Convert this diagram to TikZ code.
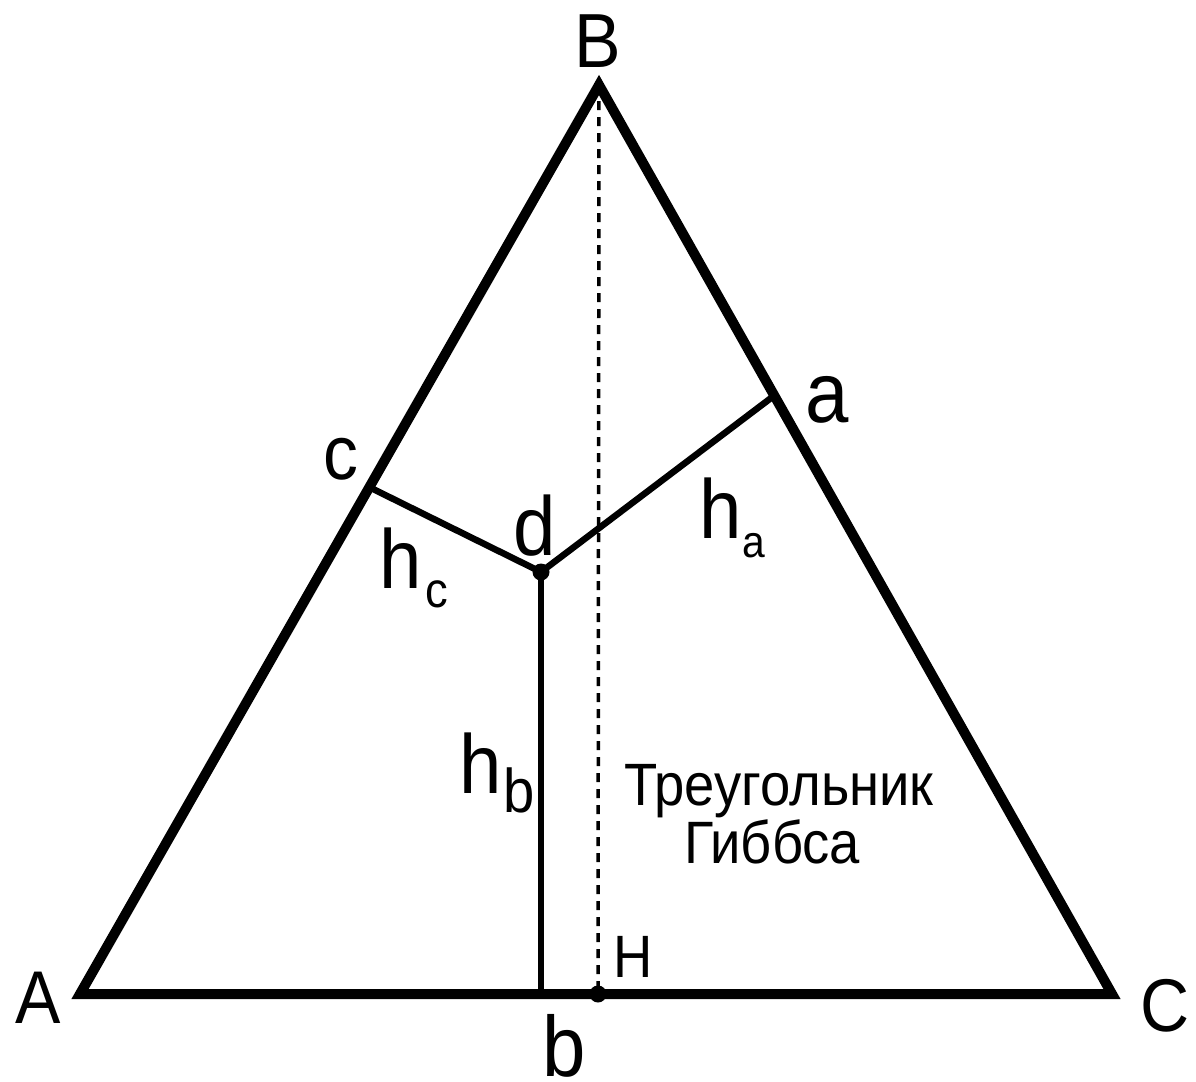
\documentclass[tikz,border=0pt]{standalone}
\usepackage{fontspec}
\setmainfont[FakeStretch=0.91]{Liberation Sans}
\tikzset{
  lbl/.style={inner sep=0pt, outer sep=0pt, anchor=base},
  edge/.style={line width=10bp, line join=miter},
  inner/.style={line width=6.5bp},
  aux/.style={line width=3.5bp, dash pattern=on 9bp off 7bp},
}
\newcommand{\fs}[1]{\fontsize{#1}{#1}\selectfont}
\begin{document}
\begin{tikzpicture}[x=1bp,y=-1bp]
\useasboundingbox (0,0) rectangle (1196,1082);
\coordinate (A) at (80,994);
\coordinate (B) at (599,85);
\coordinate (C) at (1112,994);
\coordinate (H) at (598,994);
\coordinate (d) at (541,572);
\coordinate (c) at (369,487);
\coordinate (a) at (775,395);
\coordinate (b) at (541,994);
% dashed height
\draw[aux] (B) -- (H);
% triangle
\draw[edge] (A) -- (B) -- (C) -- cycle;
% distances
\draw[inner] (c) -- (d) -- (a);
\draw[inner] (d) -- (b);
\fill (d) circle (8.5bp);
\fill (H) circle (8.5bp);
% labels
\node[lbl, font=\fs{77}] (lB) at (598,67) {B};
\node[lbl, font=\fs{75}] (lA) at (38,1023) {A};
\node[lbl, font=\fs{75}] (lC) at (1165,1031) {C};
\node[lbl, font=\fs{60}] (lH) at (633,977) {H};
\node[lbl, font=\fs{86}] (lb) at (564,1076) {b};
\node[lbl, font=\fs{84}] (ld) at (535,555) {d};
\node[lbl, font=\fs{77}] (lc) at (341,479) {c};
\node[lbl, font=\fs{86}] (la) at (827,422) {a};
\node[lbl, font=\fs{84}] (lha) at (720.5,538) {h};
\node[lbl, font=\fs{45}] (lhas) at (754,557) {a};
\node[lbl, font=\fs{84}] (lhc) at (400.5,588) {h};
\node[lbl, font=\fs{50}] (lhcs) at (437,607) {c};
\node[lbl, font=\fs{84}] (lhb) at (481,793) {h};
\node[lbl, font=\fs{62}] (lhbs) at (519,812) {b};
\node[lbl, font=\fs{60}] (t1) at (779,805) {Треугольник};
\node[lbl, font=\fs{60}] (t2) at (772,863) {Гиббса};
\end{tikzpicture}
\end{document}
